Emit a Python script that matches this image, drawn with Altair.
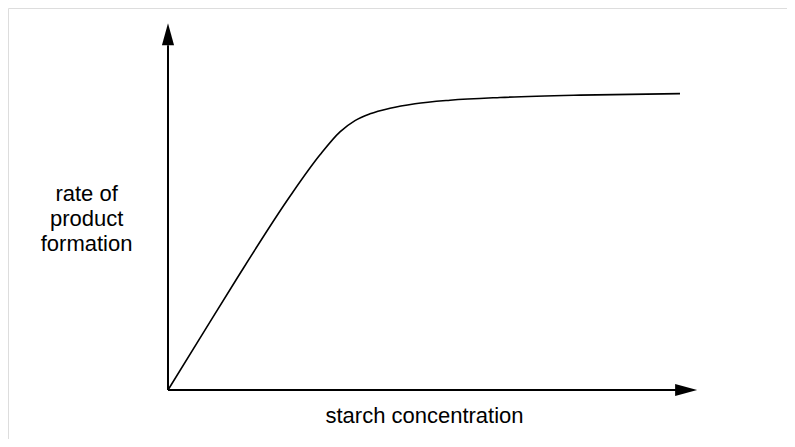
import altair as alt
import pandas as pd

# Curve (starch concentration vs rate of product formation), arbitrary units
conc = [0, 6.64, 13.28, 23.83, 29.69, 33.59, 36.52, 39.45, 43.36, 48.24, 55.08, 64.84, 80.47, 100]
rate = [0, 18.55, 37.04, 65.22, 79.16, 86.90, 90.69, 92.96, 94.85, 96.36, 97.54, 98.47, 99.28, 99.78]

# axis extents (data units)
x_axis_end = 103.3
y_axis_end = 123.5
x_label = "starch concentration"
y_label = "rate of\nproduct\nformation"

X_DOM = [-31.25, 120.9]
Y_DOM = [-16.5, 128.6]

xs = alt.Scale(domain=X_DOM, nice=False, zero=False)
ys = alt.Scale(domain=Y_DOM, nice=False, zero=False)

curve_df = pd.DataFrame({"x": conc, "y": rate})

xaxis_df = pd.DataFrame({"x": [0], "x2": [x_axis_end - 4.0], "y": [0]})
yaxis_df = pd.DataFrame({"x": [0], "y": [0], "y2": [y_axis_end - 7.4]})

arrow_x_df = pd.DataFrame({"x": [x_axis_end - 2.1], "y": [0]})
arrow_y_df = pd.DataFrame({"x": [0], "y": [y_axis_end - 3.7]})

labels_df = pd.DataFrame({
    "x": [50.1, -15.9],
    "y": [-11.1, 63.6],
    "t": [x_label, y_label],
})

curve = alt.Chart(curve_df).mark_line(color="black", strokeWidth=1.6, interpolate="monotone").encode(
    x=alt.X("x:Q", scale=xs, axis=None),
    y=alt.Y("y:Q", scale=ys, axis=None),
)

xaxis = alt.Chart(xaxis_df).mark_rule(color="black", strokeWidth=2).encode(
    x=alt.X("x:Q", scale=xs, axis=None), x2="x2:Q",
    y=alt.Y("y:Q", scale=ys, axis=None),
)
yaxis = alt.Chart(yaxis_df).mark_rule(color="black", strokeWidth=2).encode(
    x=alt.X("x:Q", scale=xs, axis=None),
    y=alt.Y("y:Q", scale=ys, axis=None), y2="y2:Q",
)

arrow_up = alt.Chart(arrow_y_df).mark_point(
    shape="M0,-1L0.55,1L-0.55,1Z", size=484, filled=True, color="black", opacity=1, strokeWidth=0
).encode(x=alt.X("x:Q", scale=xs, axis=None), y=alt.Y("y:Q", scale=ys, axis=None))

arrow_right = alt.Chart(arrow_x_df).mark_point(
    shape="M1,0L-1,0.55L-1,-0.55Z", size=484, filled=True, color="black", opacity=1, strokeWidth=0
).encode(x=alt.X("x:Q", scale=xs, axis=None), y=alt.Y("y:Q", scale=ys, axis=None))

texts = alt.Chart(labels_df).mark_text(
    font="Liberation Sans", fontSize=22, color="black", lineBreak="\n", lineHeight=25,
    align="center", baseline="alphabetic"
).encode(
    x=alt.X("x:Q", scale=xs, axis=None),
    y=alt.Y("y:Q", scale=ys, axis=None),
    text="t:N",
)

chart = alt.layer(xaxis, yaxis, arrow_up, arrow_right, curve, texts).properties(
    width=779, height=431, padding=0, autosize="none"
).configure_view(strokeWidth=0, stroke="transparent").configure(background="white")

chart.save("out.html", embed_options={"renderer": "svg", "actions": False})
